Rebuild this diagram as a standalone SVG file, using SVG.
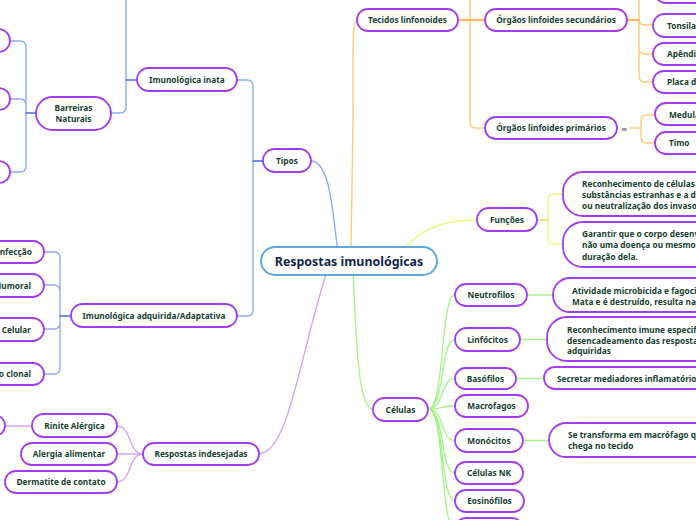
<svg xmlns="http://www.w3.org/2000/svg" width="696" height="520" viewBox="0 0 696 520">
<style>
.n{fill:#fff;stroke:#a33cf0;stroke-width:1.8}
.c{fill:#fff;stroke:#5ea8dc;stroke-width:2}
.t{font-family:"Noto Sans","DejaVu Sans",sans-serif;font-weight:bold;font-size:8.3px;fill:#173f30;text-anchor:middle}
.s{text-anchor:start}
.e{text-anchor:end}
.ct{font-family:"Noto Sans","DejaVu Sans",sans-serif;font-weight:bold;font-size:12.4px;fill:#10264a;text-anchor:middle}
.l{fill:none;stroke-width:1.4;stroke-linecap:round}
.b{stroke:#8caaf7}.bd{stroke:#3f6ef0}
.o{stroke:#ffcb7a}.od{stroke:#ffa41a}
.y{stroke:#ecf57c}.yd{stroke:#dfe860}
.g{stroke:#a9f38f}
.p{stroke:#d7a2f6}
</style>
<g id="connectors">
<path class="l b" d="M311,161 C332,161 333,225 338,250"/>
<path class="l b" d="M253,161 V86 Q253,80 247,80 H237 M253,161 V310 Q253,316 247,316 H237"/>
<path class="l b" d="M126,80 V0 M126,80 V107 Q126,113 120,113 H111"/>
<path class="l b" d="M26,113 V47 Q26,41 20,41 H10 M26,113 V105 Q26,99 20,99 H10 M26,113 V166 Q26,172 20,172 H10"/>
<path class="l b" d="M60,316 V258 Q60,252 54,252 H44 M60,316 V291 Q60,285 54,285 H44 M60,316 V323 Q60,329 54,329 H44 M60,316 V368 Q60,374 54,374 H44"/>
<path class="l bd" d="M263,161 H253 M137,80 H126 M36,113 H26 M71,316 H60"/>
<path class="l o" d="M357,20 C352,22 353,50 353,120 L351,250"/>
<path class="l o" d="M470,20 V0 M470,20 V122 Q470,128 476,128 H485"/>
<path class="l o" d="M639,20 V0 M639,20 V19 Q639,25 645,25 H653 M639,20 V48 Q639,54 645,54 H653 M639,20 V76 Q639,82 645,82 H653"/>
<path class="l o" d="M630,128 H641 M641,128 V121 Q641,115 647,115 H655 M641,128 V137 Q641,143 647,143 H655"/>
<path class="l od" d="M458,20 H485 M627,20 H639"/>
<path class="l y" d="M400,255 C420,225 450,220 477,220"/>
<path class="l y" d="M548,220 V200 Q548,194 554,194 H563 M548,220 V238 Q548,244 554,244 H563"/>
<path class="l yd" d="M537,220 H548"/>
<path class="l g" d="M353,268 C356,340 358,409 373,409"/>
<path class="l g" d="M428,409 C445,409 440,295 455,295 M428,409 C445,409 440,339.5 455,339.5 M428,409 C445,409 440,378.5 455,378.5 M428,409 C445,409 440,406 455,406 M428,409 C445,409 440,440.5 455,440.5 M428,409 C445,409 440,473 455,473 M428,409 C445,409 440,501 455,501 M428,409 C445,409 440,529 455,529"/>
<path class="l g" d="M527,295 H553 M520,339.5 H547 M516,378.5 H544 M523,440.5 H549"/>
<path class="l p" d="M259,454 C290,452 300,350 330,262"/>
<path class="l p" d="M143,454 C128,454 132,426 117,426 M143,454 H117 M143,454 C128,454 132,482 117,482 M32,426 H5"/>
</g>
<g id="central"><rect class="c" x="261" y="247" width="176" height="28" rx="14"/><text class="ct" x="349" y="266">Respostas imunológicas</text></g>
<g id="tipos"><rect class="n" x="263" y="149" width="48" height="23" rx="11.5"/><text class="t" x="287" y="164">Tipos</text></g>
<g id="inata"><rect class="n" x="137" y="68" width="100" height="23" rx="11.5"/><text class="t" x="187" y="83">Imunológica inata</text></g>
<g id="barreiras"><rect class="n" x="36" y="97" width="75" height="33" rx="16.5"/><text class="t" x="73.5" y="111">Barreiras</text><text class="t" x="73.5" y="122">Naturais</text></g>
<g id="barreira1"><rect class="n" x="-60" y="29" width="70" height="23" rx="11.5"/></g>
<g id="barreira2"><rect class="n" x="-60" y="88" width="70" height="22" rx="11"/></g>
<g id="barreira3"><rect class="n" x="-60" y="161" width="70" height="22" rx="11"/></g>
<g id="adquirida"><rect class="n" x="71" y="304" width="166" height="23" rx="11.5"/><text class="t" x="154" y="319">Imunológica adquirida/Adaptativa</text></g>
<g id="infeccao"><rect class="n" x="-80" y="241" width="124" height="22" rx="11"/><text class="t e" x="32" y="255">Infecção</text></g>
<g id="humoral"><rect class="n" x="-80" y="274" width="124" height="23" rx="11.5"/><text class="t e" x="31" y="288.5">Imunidade Humoral</text></g>
<g id="celular"><rect class="n" x="-80" y="318" width="124" height="23" rx="11.5"/><text class="t e" x="31" y="332.5">Imunidade Celular</text></g>
<g id="clonal"><rect class="n" x="-80" y="363" width="124" height="22" rx="11"/><text class="t e" x="31" y="377">Seleção clonal</text></g>
<g id="indesejadas"><rect class="n" x="143" y="443" width="116" height="22" rx="11"/><text class="t" x="201" y="457">Respostas indesejadas</text></g>
<g id="rinite"><rect class="n" x="32" y="414" width="85" height="23" rx="11.5"/><text class="t" x="74.5" y="428.5">Rinite Alérgica</text></g>
<g id="rinite-filho"><rect class="n" x="-60" y="415" width="65" height="21" rx="10.5"/></g>
<g id="alergia"><rect class="n" x="21" y="443" width="96" height="22" rx="11"/><text class="t" x="69" y="457">Alergia alimentar</text></g>
<g id="dermatite"><rect class="n" x="5" y="471" width="112" height="22" rx="11"/><text class="t" x="61" y="485">Dermatite de contato</text></g>
<g id="tecidos"><rect class="n" x="357" y="9" width="101" height="22" rx="11"/><text class="t" x="407.5" y="23">Tecidos linfonoides</text></g>
<g id="secundarios"><rect class="n" x="485" y="9" width="142" height="22" rx="11"/><text class="t" x="556" y="23">Órgãos linfoides secundários</text></g>
<g id="primarios"><rect class="n" x="485" y="117" width="132" height="22" rx="11"/><text class="t" x="551" y="131">Órgãos linfoides primários</text><text x="624" y="131.5" style="font-family:'DejaVu Sans',sans-serif;font-size:8px;fill:#555;text-anchor:middle">≡</text></g>
<g id="medula"><rect class="n" x="655" y="103" width="100" height="22" rx="11"/><text class="t s" x="669" y="117.5">Medula óssea</text></g>
<g id="timo"><rect class="n" x="655" y="132" width="60" height="22" rx="11"/><text class="t s" x="669" y="146">Timo</text></g>
<g id="sec-topo"><rect class="n" x="655" y="-19" width="100" height="22" rx="11"/></g>
<g id="tonsilas"><rect class="n" x="653" y="14" width="100" height="23" rx="11.5"/><text class="t s" x="667" y="28.5">Tonsilas</text></g>
<g id="apendice"><rect class="n" x="653" y="43" width="100" height="22" rx="11"/><text class="t s" x="667" y="57">Apêndice</text></g>
<g id="placa"><rect class="n" x="653" y="71" width="100" height="22" rx="11"/><text class="t s" x="667" y="85">Placa de Peyer</text></g>
<g id="funcoes"><rect class="n" x="477" y="208" width="60" height="23" rx="11.5"/><text class="t" x="507" y="222.5">Funções</text></g>
<g id="funcao1"><rect class="n" x="563" y="172" width="200" height="44" rx="20"/><text class="t s" x="582" y="187">Reconhecimento de células e</text><text class="t s" x="582" y="198">substâncias estranhas e a destruição</text><text class="t s" x="582" y="209">ou neutralização dos invasores</text></g>
<g id="funcao2"><rect class="n" x="563" y="222" width="200" height="45" rx="20"/><text class="t s" x="582" y="237">Garantir que o corpo desenvolva ou</text><text class="t s" x="582" y="248">não uma doença ou mesmo a</text><text class="t s" x="582" y="260">duração dela.</text></g>
<g id="celulas"><rect class="n" x="373" y="398" width="55" height="23" rx="11.5"/><text class="t" x="400.5" y="412.5">Células</text></g>
<g id="neutrofilos"><rect class="n" x="455" y="284" width="72" height="22" rx="11"/><text class="t" x="491" y="298">Neutrofilos</text></g>
<g id="linfocitos"><rect class="n" x="455" y="328" width="65" height="23" rx="11.5"/><text class="t" x="487.5" y="342.5">Linfócitos</text></g>
<g id="basofilos"><rect class="n" x="455" y="368" width="61" height="21" rx="10.5"/><text class="t" x="485.5" y="381.5">Basófilos</text></g>
<g id="macrofagos"><rect class="n" x="455" y="395" width="73" height="22" rx="11"/><text class="t" x="491.5" y="409">Macrofagos</text></g>
<g id="monocitos"><rect class="n" x="455" y="429" width="68" height="23" rx="11.5"/><text class="t" x="489" y="443.5">Monócitos</text></g>
<g id="nk"><rect class="n" x="455" y="462" width="68" height="22" rx="11"/><text class="t" x="489" y="476">Células NK</text></g>
<g id="eosinofilos"><rect class="n" x="455" y="490" width="69" height="22" rx="11"/><text class="t" x="489.5" y="504">Eosinófilos</text></g>
<g id="celula-base"><rect class="n" x="455" y="518" width="68" height="22" rx="11"/></g>
<g id="neutro-func"><rect class="n" x="553" y="278" width="200" height="34" rx="17"/><text class="t s" x="572" y="294">Atividade microbicida e fagocitária.</text><text class="t s" x="572" y="305">Mata e é destruído, resulta na secreção</text></g>
<g id="linfo-func"><rect class="n" x="547" y="317" width="200" height="44" rx="20"/><text class="t s" x="567" y="333">Reconhecimento imune especifico e</text><text class="t s" x="567" y="344">desencadeamento das respostas</text><text class="t s" x="567" y="354">adquiridas</text></g>
<g id="baso-func"><rect class="n" x="544" y="367" width="200" height="22" rx="11"/><text class="t s" x="557" y="382">Secretar mediadores inflamatórios</text></g>
<g id="mono-func"><rect class="n" x="549" y="423" width="200" height="34" rx="17"/><text class="t s" x="568" y="438">Se transforma em macrófago quando</text><text class="t s" x="568" y="449">chega no tecido</text></g>
</svg>
